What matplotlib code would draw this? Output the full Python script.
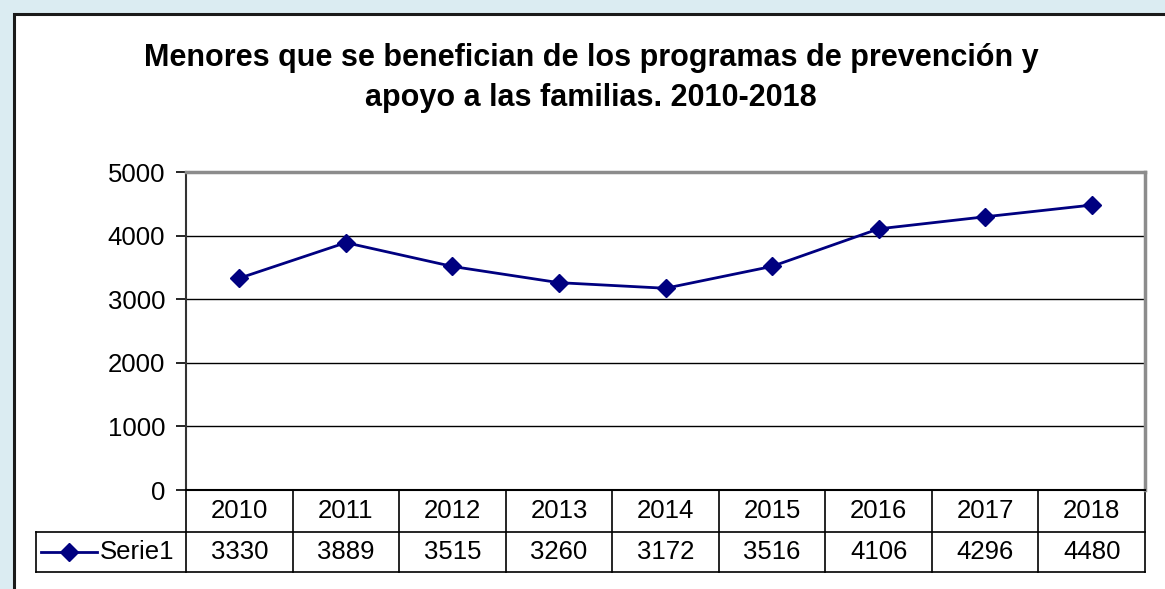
import numpy as np
import matplotlib.pyplot as plt
from matplotlib.patches import Rectangle
from matplotlib.lines import Line2D

plt.rcParams['font.family'] = ['Liberation Sans', 'DejaVu Sans']

years = ['2010', '2011', '2012', '2013', '2014', '2015', '2016', '2017', '2018']
serie1 = [3330, 3889, 3515, 3260, 3172, 3516, 4106, 4296, 4480]
series_name = 'Serie1'
title = 'Menores que se benefician de los programas de prevención y\napoyo a las familias. 2010-2018'

W, H = 1165, 589
fig = plt.figure(figsize=(W / 100, H / 100), dpi=100)
fig.patch.set_facecolor('#dbecf2')

# white chart area with dark border
fig.add_artist(Rectangle((14 / W, -0.1), 1.2, 1 - 14 / H + 0.1, transform=fig.transFigure,
                         facecolor='white', edgecolor='#1a1a1a', lw=2.2, zorder=0))

left, right, top, bottom = 186, 1145, 172, 490
ax = fig.add_axes([left / W, 1 - bottom / H, (right - left) / W, (bottom - top) / H])

navy = '#000080'
x = np.arange(len(years))
ax.plot(x, serie1, color=navy, lw=2, marker='D', ms=9, mec=navy, mfc=navy, zorder=3)

ax.set_xlim(-0.5, len(years) - 0.5)
ax.set_ylim(0, 5000)
ax.set_yticks(np.arange(0, 5001, 1000))
ax.set_xticks([])
ax.tick_params(axis='y', direction='out', length=7, width=1.2, labelsize=18.5, pad=8, colors='#000000')
for y in range(1000, 5000, 1000):
    ax.axhline(y, color='#000000', lw=1, zorder=1)
ax.spines['left'].set_color('#333333')
ax.spines['left'].set_linewidth(1.5)
ax.spines['bottom'].set_color('#000000')
ax.spines['bottom'].set_linewidth(1.5)
for s in ('top', 'right'):
    ax.spines[s].set_color('#8c8c8c')
    ax.spines[s].set_linewidth(2.5)

# data table below the axes
ph = bottom - top
pw = right - left
r1 = -(532 - bottom) / ph
r2 = -(572 - bottom) / ph
leg_left = -(left - 36) / pw
tr = ax.transAxes
kw = dict(transform=tr, clip_on=False, color='#000000', lw=1.2)
ax.add_line(Line2D([leg_left, 1], [r1, r1], **kw))
ax.add_line(Line2D([leg_left, 1], [r2, r2], **kw))
ax.add_line(Line2D([leg_left, leg_left], [r1, r2], **kw))
n = len(years)
for i in range(n + 1):
    ax.add_line(Line2D([i / n, i / n], [0, r2], **kw))
for i, (yr, v) in enumerate(zip(years, serie1)):
    cx = (i + 0.5) / n
    ax.text(cx, r1 / 2, yr, transform=tr, ha='center', va='center', fontsize=18.5)
    ax.text(cx, (r1 + r2) / 2, str(v), transform=tr, ha='center', va='center', fontsize=18.5)

# legend key inside the table
ky = (r1 + r2) / 2
k0 = -(left - 41) / pw
k1 = -(left - 97) / pw
ax.add_line(Line2D([k0, k1], [ky, ky], transform=tr, clip_on=False, color=navy, lw=2))
ax.add_line(Line2D([(k0 + k1) / 2], [ky], transform=tr, clip_on=False, marker='D', ms=9,
                   color=navy, lw=0))
ax.text(-(left - 100) / pw, ky, series_name, transform=tr, ha='left', va='center', fontsize=18.5)

fig.text(591 / W, 1 - 78 / H, title, ha='center', va='center', fontsize=22, fontweight='bold',
         linespacing=1.45)

fig.savefig('out.png', dpi=100)
